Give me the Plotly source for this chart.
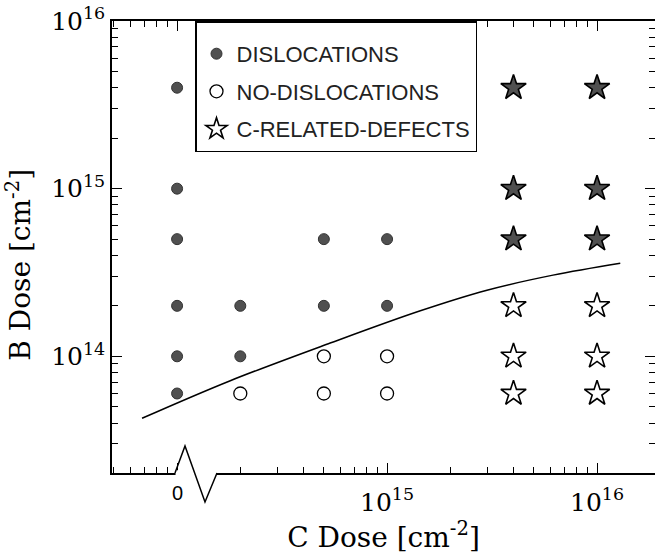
import math
import plotly.graph_objects as go

# ---------------- data ----------------
ZERO_POS = 1e14  # axis position used for the "0" C dose (broken axis)

disloc_c = [0, 0, 0, 0, 0, 0, 2e14, 2e14, 5e14, 5e14, 1e15, 1e15]
disloc_b = [4e15, 1e15, 5e14, 2e14, 1e14, 6e13, 2e14, 1e14, 5e14, 2e14, 5e14, 2e14]

nodisloc_c = [2e14, 5e14, 5e14, 1e15, 1e15]
nodisloc_b = [6e13, 1e14, 6e13, 1e14, 6e13]

cdef_disloc_c = [4e15, 4e15, 4e15, 1e16, 1e16, 1e16]
cdef_disloc_b = [4e15, 1e15, 5e14, 4e15, 1e15, 5e14]

cdef_nodisloc_c = [4e15, 4e15, 4e15, 1e16, 1e16, 1e16]
cdef_nodisloc_b = [2e14, 1e14, 6e13, 2e14, 1e14, 6e13]

curve_c = [6.81e13, 1.78e14, 5.36e14, 1.44e15, 2.99e15, 6.17e15, 1.29e16]
curve_b = [4.27e13, 7.13e13, 1.20e14, 1.87e14, 2.48e14, 3.05e14, 3.59e14]

x_tickvals = [1e14, 1e15, 1e16]
x_ticktext = ["", "10<sup>15</sup>", "10<sup>16</sup>"]
zero_label = "0"
y_tickvals = [1e14, 1e15, 1e16]
y_ticktext = ["10<sup>14</sup>", "10<sup>15</sup>", "10<sup>16</sup>"]

minor_vals = [m * 10 ** e for e in (13, 14, 15, 16) for m in range(2, 10)]


def cpos(vals):
    return [v if v > 0 else ZERO_POS for v in vals]


# ---------------- figure ----------------
W, H = 655, 559
L, R, T, B = 112, 0, 21, 86
XR = [13.690, 16.276]
YR = [13.304, 16.0]

DARK = "#505050"
SERIF = "DejaVu Serif"

fig = go.Figure()

fig.add_trace(go.Scatter(
    x=curve_c, y=curve_b, mode="lines", line=dict(color="black", width=1.5, shape="spline"),
    showlegend=False, hoverinfo="skip"))

fig.add_trace(go.Scatter(
    x=cpos(disloc_c), y=disloc_b, mode="markers", name="DISLOCATIONS",
    legendgroup="a",
    marker=dict(symbol="circle", size=11, color=DARK, line=dict(color="#333", width=1))))

fig.add_trace(go.Scatter(
    x=cpos(nodisloc_c), y=nodisloc_b, mode="markers", name="NO-DISLOCATIONS",
    legendgroup="b",
    marker=dict(symbol="circle", size=13, color="white", line=dict(color="black", width=1.3))))

fig.add_trace(go.Scatter(
    x=cdef_disloc_c, y=cdef_disloc_b, mode="markers", name="C-RELATED-DEFECTS",
    legendgroup="c", showlegend=False,
    marker=dict(symbol="star", size=19, color=DARK, line=dict(color="black", width=1.6))))

fig.add_trace(go.Scatter(
    x=cdef_nodisloc_c, y=cdef_nodisloc_b, mode="markers", name="C-RELATED-DEFECTS",
    legendgroup="c",
    marker=dict(symbol="star", size=19, color="white", line=dict(color="black", width=1.6))))

axis_common = dict(
    type="log", showline=True, linecolor="black", linewidth=1.5,
    ticks="inside", tickcolor="black", tickwidth=1.3, ticklen=10,
    showgrid=False, zeroline=False, mirror="ticks",
    tickfont=dict(family=SERIF, size=25, color="black"),
    minor=dict(ticks="inside", tickvals=minor_vals, ticklen=6, tickcolor="black",
               tickwidth=1.1, showgrid=False),
)

fig.update_layout(
    width=W, height=H,
    margin=dict(l=L, r=R, t=T, b=B, autoexpand=False),
    paper_bgcolor="white", plot_bgcolor="white",
    xaxis=dict(axis_common, range=XR, tickmode="array", tickvals=x_tickvals, ticktext=x_ticktext,
               ticklabelstandoff=6,
               title=dict(text="C Dose [cm<sup>-2</sup>]", standoff=10,
                          font=dict(family=SERIF, size=28, color="black"))),
    yaxis=dict(axis_common, range=YR, tickmode="array", tickvals=y_tickvals, ticktext=y_ticktext,
               title=dict(text="B Dose [cm<sup>-2</sup>]&nbsp;&nbsp;&nbsp;&nbsp;", standoff=12,
                          font=dict(family=SERIF, size=28, color="black"))),
    legend=dict(x=(195 - L) / (W - L - R), y=1, xanchor="left", yanchor="top",
                bgcolor="white", bordercolor="black", borderwidth=1.5,
                font=dict(family="Liberation Sans", size=22, color="#222"),
                traceorder="grouped", tracegroupgap=6,
                title=dict(text=" ", font=dict(size=8))),
    showlegend=True,
)

# "0" label of the broken C-dose axis
fig.add_annotation(x=math.log10(ZERO_POS), xref="x", y=(473 - 493) / (H - T - B), yref="paper",
                   text=zero_label, showarrow=False, xanchor="center", yanchor="middle",
                   font=dict(family="Liberation Sans", size=20, color="black"))

# ---------------- axis break on the C-dose axis ----------------
pw, ph = W - L - R, H - T - B


def px2paper(px, py):
    return (px - L) / pw, (H - B - py) / ph


brk = [(175, 473), (185, 446), (205, 502), (217, 473)]
xa, ya = px2paper(*brk[0])
xb, yb = px2paper(*brk[-1])
fig.add_shape(type="rect", xref="paper", yref="paper", x0=xa + 0.001, x1=xb - 0.001,
              y0=-0.006, y1=0.006, fillcolor="white", line=dict(width=0), layer="above")
pts = [px2paper(*p) for p in brk]
path = "M " + " L ".join(f"{a:.5f},{b:.5f}" for a, b in pts)
fig.add_shape(type="path", xref="paper", yref="paper", path=path,
              line=dict(color="black", width=1.5), layer="above")

fig.write_html("out.html", config={"displayModeBar": False},
               post_script="document.body.style.margin='0';")
